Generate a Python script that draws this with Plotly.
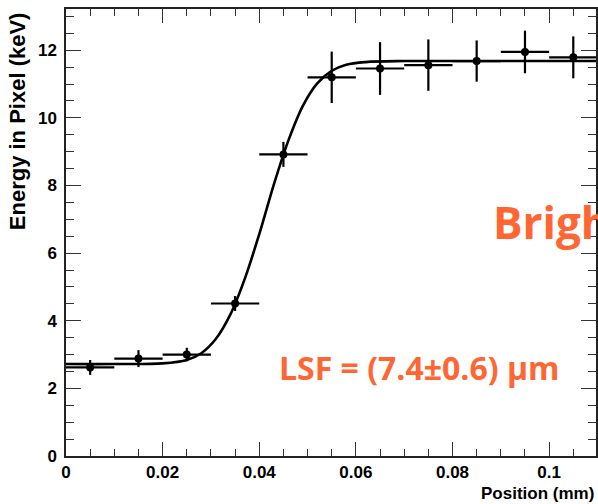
import plotly.graph_objects as go

# Measured points
pos_mm = [0.005, 0.015, 0.025, 0.035, 0.045, 0.055, 0.065, 0.075, 0.085, 0.095, 0.105]
pos_err = [0.005] * 11
energy = [2.62, 2.88, 3.00, 4.51, 8.92, 11.20, 11.46, 11.56, 11.68, 11.95, 11.79]
energy_err = [0.22, 0.25, 0.20, 0.22, 0.37, 0.76, 0.78, 0.76, 0.61, 0.63, 0.62]

# Fit curve
fit_x = [0.0, 0.010, 0.020, 0.025, 0.028, 0.031, 0.034, 0.037, 0.040, 0.043,
         0.046, 0.049, 0.052, 0.055, 0.058, 0.062, 0.070, 0.080, 0.1097]
fit_y = [2.72, 2.72, 2.74, 2.84, 3.04, 3.46, 4.18, 5.24, 6.56, 8.02,
         9.32, 10.35, 11.02, 11.39, 11.57, 11.65, 11.68, 11.68, 11.68]

# Axis ticks
x_major = [0, 0.02, 0.04, 0.06, 0.08, 0.1]
x_labels = ["0", "0.02", "0.04", "0.06", "0.08", "0.1"]
x_minor = [0.005, 0.010, 0.015, 0.025, 0.030, 0.035, 0.045, 0.050, 0.055,
           0.065, 0.070, 0.075, 0.085, 0.090, 0.095, 0.105]
y_major = [0, 2, 4, 6, 8, 10, 12]
y_minor = [0.5, 1, 1.5, 2.5, 3, 3.5, 4.5, 5, 5.5, 6.5, 7, 7.5, 8.5, 9, 9.5,
           10.5, 11, 11.5, 12.5, 13]

x_range = [0, 0.1097]
y_range = [0, 13.22]

ORANGE = "#FF6633"
AX = "#222222"
TK = "#333333"
tick_font = dict(family="Liberation Sans, Arial", size=17, color="black", weight="bold")

fig = go.Figure()
fig.add_trace(go.Scatter(
    x=pos_mm, y=energy, mode="markers",
    marker=dict(color="black", size=8, symbol="circle"),
    error_x=dict(type="data", array=pos_err, color="black", thickness=2.2, width=0),
    error_y=dict(type="data", array=energy_err, color="black", thickness=2.2, width=0),
    showlegend=False,
))
fig.add_trace(go.Scatter(
    x=fit_x, y=fit_y, mode="lines",
    line=dict(color="black", width=2.6, shape="spline", smoothing=1.0),
    showlegend=False,
))

fig.update_layout(
    width=598, height=504,
    margin=dict(l=66, r=0, t=9, b=48),
    paper_bgcolor="white", plot_bgcolor="white",
    xaxis=dict(range=x_range, tickvals=x_major, ticktext=x_labels,
               ticks="inside", ticklen=14, tickwidth=1.4, tickcolor=TK,
               showline=True, linecolor=AX, linewidth=1.5,
               mirror="allticks", showgrid=False, zeroline=False, tickfont=tick_font,
               minor=dict(tickvals=x_minor, ticks="inside", ticklen=7, tickwidth=1.4,
                          tickcolor=TK, showgrid=False)),
    yaxis=dict(range=y_range, tickvals=y_major, ticklabelstandoff=4,
               ticks="inside", ticklen=15, tickwidth=1.4, tickcolor=TK,
               showline=True, linecolor=AX, linewidth=1.5,
               mirror="allticks", showgrid=False, zeroline=False, tickfont=tick_font,
               minor=dict(tickvals=y_minor, ticks="inside", ticklen=8, tickwidth=1.4,
                          tickcolor=TK, showgrid=False)),
    annotations=[
        dict(text="Position (mm)", xref="paper", yref="paper", x=1.0, y=-0.085,
             xanchor="right", yanchor="middle", showarrow=False,
             font=dict(family="Liberation Sans, Arial", size=17, color="black",
                       weight="bold")),
        dict(text="Energy in Pixel (keV)", xref="paper", yref="paper", x=-0.09, y=0.998,
             xanchor="center", yanchor="top", textangle=-90, showarrow=False,
             font=dict(family="Liberation Sans, Arial", size=22, color="black",
                       weight="bold")),
        dict(text="LSF = (7.4±0.6) µm", xref="x", yref="y", x=0.0437, y=2.62,
             xanchor="left", yanchor="middle", showarrow=False,
             font=dict(family="Open Sans", size=32, color=ORANGE, weight="bold")),
        dict(text="Brigh", xref="x", yref="y", x=0.0880, y=6.93,
             xanchor="left", yanchor="middle", showarrow=False,
             font=dict(family="Open Sans", size=44, color=ORANGE, weight="bold")),
    ],
)

fig.write_html("out.html")
